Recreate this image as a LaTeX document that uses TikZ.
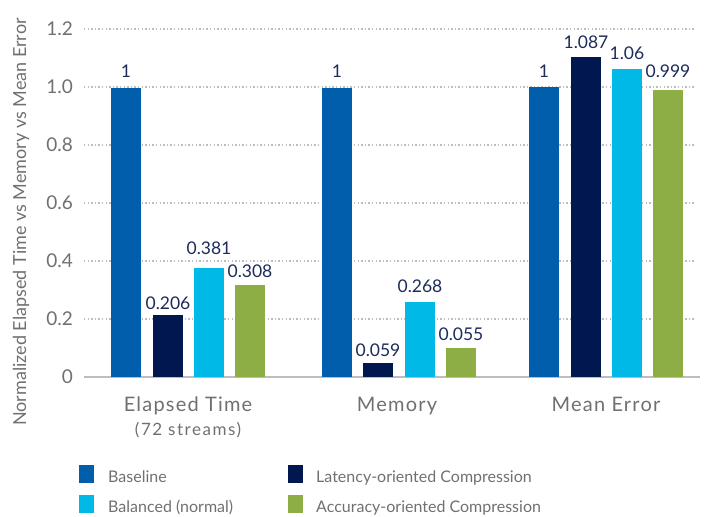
\documentclass[tikz,border=0pt]{standalone}
\usepackage{fontspec}
\setmainfont{Lato}
\definecolor{cbase}{HTML}{005EAC}
\definecolor{clat}{HTML}{00174F}
\definecolor{cbal}{HTML}{00B9E6}
\definecolor{cacc}{HTML}{8CAE45}
\definecolor{txtgray}{HTML}{707070}
\definecolor{valnavy}{HTML}{1C2B5A}
\definecolor{gridgray}{HTML}{BDBDBD}
\begin{document}
\begin{tikzpicture}[x=1pt,y=-1pt,
  gridline/.style={draw=gridgray, line width=1.3pt, dash pattern=on 1.4pt off 2.2pt},
  axisline/.style={draw=gridgray, line width=1.5pt},
  barbox/.style={anchor=south, inner sep=0pt, minimum width=30pt, draw=none},
  val/.style={anchor=base, inner sep=0pt, text=valnavy, font=\fontsize{17.5}{17.5}\selectfont},
  tick/.style={anchor=east, inner sep=0pt, text=txtgray, font=\fontsize{19}{19}\selectfont},
  cat/.style={anchor=base, inner sep=0pt, text=txtgray, font=\fontsize{20}{20}\selectfont\addfontfeature{LetterSpace=6}},
  subcat/.style={anchor=base, inner sep=0pt, text=txtgray, font=\fontsize{17}{17}\selectfont\addfontfeature{LetterSpace=9}},
  legbox/.style={anchor=north west, inner sep=0pt, minimum width=14.5pt, minimum height=18pt, draw=none},
  legtxt/.style={anchor=base west, inner sep=0pt, text=txtgray, font=\fontsize{16}{16}\selectfont},
  ytitle/.style={inner sep=0pt, text=txtgray, rotate=90, font=\fontsize{18}{18}\selectfont}
]
\useasboundingbox (0,0) rectangle (705,517);

% grid lines
\foreach \v/\y in {1.2/29,1.0/87,0.8/145,0.6/203,0.4/261,0.2/319}{
  \coordinate (gl\y) at (84,\y);
  \coordinate (gr\y) at (695,\y);
  \draw[gridline] (gl\y) -- (gr\y);
  \node[tick] (t\y) at (73,\y) {\v};
}
\coordinate (al) at (84,377);
\coordinate (ar) at (700,377);
\draw[axisline] (al) -- (ar);
\node[tick] (t0) at (73,377) {0};

% y-axis title
\node[ytitle] (ytl) at (21,222) {Normalized Elapsed Time vs Memory vs Mean Error};

% Elapsed Time
\node[barbox, fill=cbase, minimum height=289pt] (e1) at (126,377) {};
\node[barbox, fill=clat,  minimum height=62pt]  (e2) at (168,377) {};
\node[barbox, fill=cbal,  minimum height=109pt] (e3) at (209,377) {};
\node[barbox, fill=cacc,  minimum height=92pt]  (e4) at (250,377) {};
\node[val] (e1v) at (126,77) {1};
\node[val] (e2v) at (168,309) {0.206};
\node[val] (e3v) at (209,254) {0.381};
\node[val] (e4v) at (250,277) {0.308};

% Memory
\node[barbox, fill=cbase, minimum height=289pt] (m1) at (337,377) {};
\node[barbox, fill=clat,  minimum height=14pt]  (m2) at (378,377) {};
\node[barbox, fill=cbal,  minimum height=75pt]  (m3) at (420,377) {};
\node[barbox, fill=cacc,  minimum height=29pt]  (m4) at (461,377) {};
\node[val] (m1v) at (337,77) {1};
\node[val] (m2v) at (378,356) {0.059};
\node[val] (m3v) at (420,292) {0.268};
\node[val] (m4v) at (461,340) {0.055};

% Mean Error
\node[barbox, fill=cbase, minimum height=290pt] (r1) at (544,377) {};
\node[barbox, fill=clat,  minimum height=320pt] (r2) at (586,377) {};
\node[barbox, fill=cbal,  minimum height=308pt] (r3) at (627,377) {};
\node[barbox, fill=cacc,  minimum height=287pt] (r4) at (668,377) {};
\node[val] (r1v) at (544,77) {1};
\node[val] (r2v) at (586,48) {1.087};
\node[val] (r3v) at (627,59) {1.06};
\node[val] (r4v) at (668,77) {0.999};

% category labels
\node[cat] (c1) at (188,411) {Elapsed Time};
\node[subcat] (c1b) at (188,435) {(72 streams)};
\node[cat] (c2) at (397,411) {Memory};
\node[cat] (c3) at (606,411) {Mean Error};

% legend
\node[legbox, fill=cbase] (lg1) at (79,465) {};
\node[legtxt] (lt1) at (108,482) {Baseline};
\node[legbox, fill=cbal] (lg2) at (79,495) {};
\node[legtxt] (lt2) at (108,512) {Balanced (normal)};
\node[legbox, fill=clat] (lg3) at (288,465) {};
\node[legtxt] (lt3) at (316,482) {Latency-oriented Compression};
\node[legbox, fill=cacc] (lg4) at (288,495) {};
\node[legtxt] (lt4) at (316,512) {Accuracy-oriented Compression};
\end{tikzpicture}
\end{document}
